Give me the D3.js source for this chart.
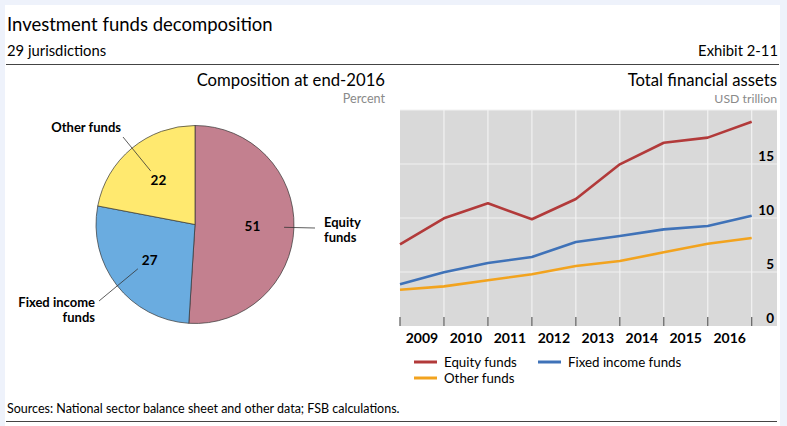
<!DOCTYPE html>
<html><head><meta charset="utf-8">
<script src="https://cdn.jsdelivr.net/npm/d3@7"></script>
<style>
html,body{margin:0;padding:0;background:#eef2fb;}
svg{display:block;font-family:Lato,"Open Sans",sans-serif;}
</style></head><body>
<svg id="c" width="787" height="426"></svg>
<script>
// ---- data ----
const pieCategories = ["Equity funds", "Fixed income funds", "Other funds"];
const pieValues = [51, 27, 22];
const pieColors = ["#c3808f", "#6aace0", "#ffe96f"];

const years = ["2009","2010","2011","2012","2013","2014","2015","2016"];
const pointDates = ["2008","2009","2010","2011","2012","2013","2014","2015","2016"]; // year-end points
const equity = [7.56, 9.97, 11.36, 9.88, 11.76, 14.97, 16.97, 17.44, 18.92];
const fixedIncome = [3.86, 4.97, 5.83, 6.39, 7.78, 8.33, 8.95, 9.26, 10.2];
const other = [3.36, 3.67, 4.23, 4.79, 5.56, 6.02, 6.82, 7.62, 8.15];
const yTicks = [0, 5, 10, 15];
const seriesNames = ["Equity funds", "Fixed income funds", "Other funds"];
const seriesColors = ["#b23a3a", "#3f72b8", "#f2a31e"];

const svg = d3.select("#c");
// white panel
svg.append("rect").attr("x",5).attr("y",5).attr("width",775).attr("height",421).attr("fill","#fff");

// headers
svg.append("text").attr("x",7).attr("y",31).attr("font-size",18.5).attr("fill","#000").text("Investment funds decomposition");
svg.append("text").attr("x",7).attr("y",56).attr("font-size",14.8).attr("fill","#000").text("29 jurisdictions");
svg.append("text").attr("x",778).attr("y",56).attr("font-size",14.8).attr("text-anchor","end").attr("fill","#000").text("Exhibit 2-11");
svg.append("line").attr("x1",6).attr("x2",779).attr("y1",64.5).attr("y2",64.5).attr("stroke","#444").attr("stroke-width",1.2);

svg.append("text").attr("x",385).attr("y",86).attr("font-size",16.7).attr("text-anchor","end").text("Composition at end-2016");
svg.append("text").attr("x",385).attr("y",103).attr("font-size",12.6).attr("text-anchor","end").attr("fill","#8a8a8a").text("Percent");
svg.append("text").attr("x",777).attr("y",86).attr("font-size",16.7).attr("text-anchor","end").text("Total financial assets");
svg.append("text").attr("x",777).attr("y",103).attr("font-size",12.3).attr("text-anchor","end").attr("fill","#8a8a8a").text("USD trillion");

// footer
svg.append("text").attr("x",7).attr("y",413).attr("font-size",12.5).text("Sources: National sector balance sheet and other data; FSB calculations.");
svg.append("line").attr("x1",6).attr("x2",777).attr("y1",421.5).attr("y2",421.5).attr("stroke","#444").attr("stroke-width",1.2);

// ---- pie ----
const cx = 195, cy = 224.5, R = 99;
const pie = d3.pie().sort(null).value(d=>d)(pieValues);
const arc = d3.arc().innerRadius(0).outerRadius(R);
const gp = svg.append("g").attr("transform",`translate(${cx},${cy})`);
gp.selectAll("path").data(pie).join("path")
  .attr("d",arc).attr("fill",(d,i)=>pieColors[i]).attr("stroke","#333").attr("stroke-width",0.7);
const labArc = d3.arc().innerRadius(R*0.58).outerRadius(R*0.58);
gp.selectAll("text.v").data(pie).join("text").attr("class","v")
  .attr("transform",d=>{const c=labArc.centroid(d);return `translate(${c[0]},${c[1]})`;})
  .attr("text-anchor","middle").attr("dy","0.36em").attr("font-size",13.5).attr("font-weight","bold")
  .text(d=>d.data);
const lbl = svg.append("g").attr("font-size",13).attr("font-weight","bold");
// Equity
const eMid = (pie[0].startAngle+pie[0].endAngle)/2;
const ein = [cx+Math.sin(eMid)*R*0.9, cy-Math.cos(eMid)*R*0.9];
svg.append("line").attr("x1",ein[0]).attr("y1",ein[1]).attr("x2",315).attr("y2",228).attr("stroke","#333").attr("stroke-width",0.8);
lbl.append("text").attr("x",324).attr("y",227).text("Equity");
lbl.append("text").attr("x",324).attr("y",242).text("funds");
// Fixed income
const fMid = (pie[1].startAngle+pie[1].endAngle)/2;
const fin = [cx+Math.sin(fMid)*R*0.73, cy-Math.cos(fMid)*R*0.73];
svg.append("line").attr("x1",fin[0]).attr("y1",fin[1]).attr("x2",99).attr("y2",301).attr("stroke","#333").attr("stroke-width",0.8);
lbl.append("text").attr("x",95).attr("y",307).attr("text-anchor","end").text("Fixed income");
lbl.append("text").attr("x",95).attr("y",322).attr("text-anchor","end").text("funds");
// Other
const oMid = (pie[2].startAngle+pie[2].endAngle)/2;
const oin = [cx+Math.sin(oMid)*R*0.7, cy-Math.cos(oMid)*R*0.7];
svg.append("line").attr("x1",oin[0]).attr("y1",oin[1]).attr("x2",123).attr("y2",137).attr("stroke","#333").attr("stroke-width",0.8);
lbl.append("text").attr("x",121).attr("y",132).attr("text-anchor","end").text("Other funds");

// ---- line chart ----
const plotL = 400, plotR = 777, plotT = 110, plotB = 326;
const x = d3.scalePoint().domain(pointDates).range([400, 751.7]);
const y = d3.scaleLinear().domain([0,20]).range([plotB, plotT]);
svg.append("rect").attr("x",plotL).attr("y",plotT).attr("width",plotR-plotL).attr("height",plotB-plotT).attr("fill","#d9d9d9");
// grid
svg.append("g").selectAll("line").data(yTicks.filter(t=>t>0).concat([20])).join("line")
  .attr("x1",plotL).attr("x2",plotR).attr("y1",d=>y(d)).attr("y2",d=>y(d)).attr("stroke","#f2f2f2").attr("stroke-width",1.2);
svg.append("g").selectAll("line").data(pointDates.slice(1)).join("line")
  .attr("x1",d=>x(d)).attr("x2",d=>x(d)).attr("y1",plotT).attr("y2",plotB).attr("stroke","#f2f2f2").attr("stroke-width",1.2);
// bottom ticks
svg.append("g").selectAll("line").data(pointDates).join("line")
  .attr("x1",d=>x(d)).attr("x2",d=>x(d)).attr("y1",plotB-9).attr("y2",plotB).attr("stroke","#666").attr("stroke-width",1.3);
// y labels
svg.append("g").selectAll("text").data(yTicks).join("text")
  .attr("x",774).attr("y",d=>y(d)-3).attr("text-anchor","end").attr("font-size",13.5).attr("font-weight","bold").text(d=>d);
// x labels
svg.append("g").selectAll("text").data(years).join("text")
  .attr("x",(d,i)=>(x(pointDates[i])+x(pointDates[i+1]))/2).attr("y",343).attr("text-anchor","middle")
  .attr("font-size",14).attr("font-weight","bold").text(d=>d);
// lines
const seriesData = [equity, fixedIncome, other];
const line = d3.line().x((d,i)=>x(pointDates[i])).y(d=>y(d));
svg.append("g").selectAll("path").data(seriesData).join("path")
  .attr("d",line).attr("fill","none").attr("stroke",(d,i)=>seriesColors[i]).attr("stroke-width",2.6).attr("stroke-linejoin","round");
// legend
const legPos = [[414,362],[538,362],[414,378]];
const lg = svg.append("g");
seriesNames.forEach((n,i)=>{
  const [lx,ly] = legPos[i];
  lg.append("line").attr("x1",lx).attr("x2",lx+23).attr("y1",ly).attr("y2",ly).attr("stroke",seriesColors[i]).attr("stroke-width",3);
  lg.append("text").attr("x",lx+30).attr("y",ly+4.5).attr("font-size",13.3).text(n);
});
</script>
</body></html>
